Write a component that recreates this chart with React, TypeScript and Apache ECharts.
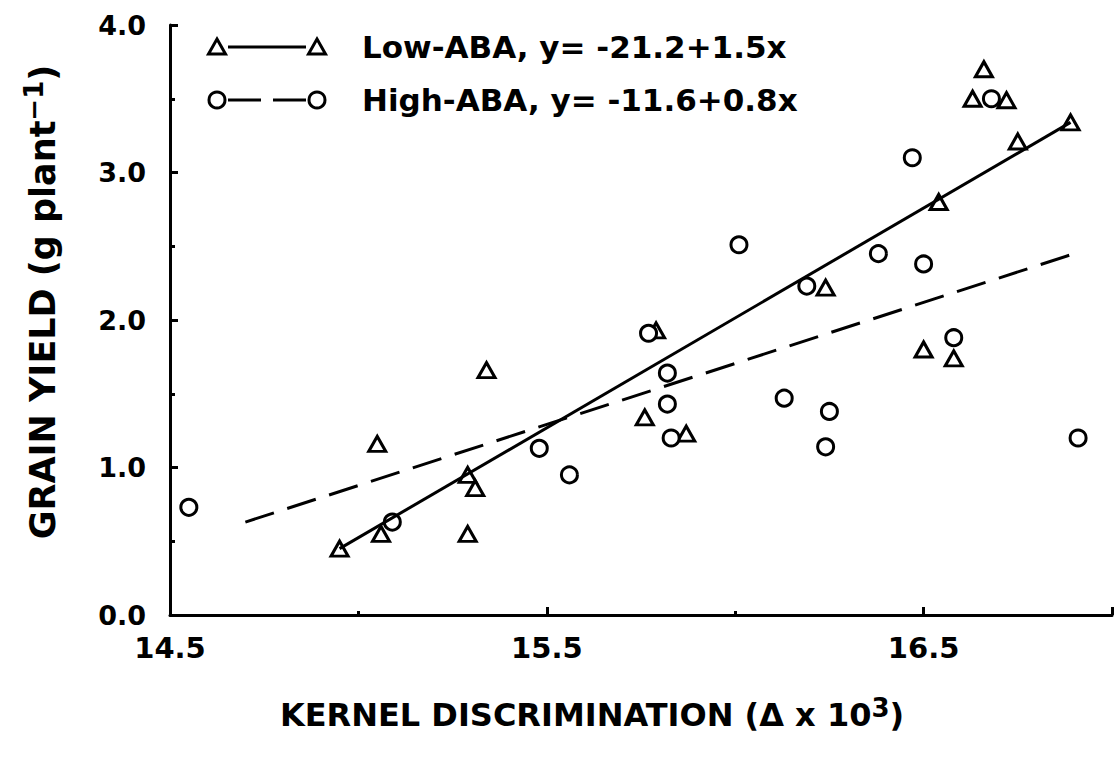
import React, { useEffect, useRef } from 'react';
import * as echarts from 'echarts';

// Low-ABA (triangles)
const lowX = [14.95, 15.05, 15.06, 15.29, 15.29, 15.31, 15.34, 15.76, 15.79, 15.87, 16.24, 16.5, 16.54, 16.58, 16.63, 16.66, 16.72, 16.75, 16.89];
const lowY = [0.45, 1.16, 0.55, 0.55, 0.95, 0.86, 1.66, 1.34, 1.93, 1.23, 2.22, 1.8, 2.8, 1.74, 3.5, 3.7, 3.49, 3.21, 3.34];
// High-ABA (circles)
const highX = [14.55, 15.09, 15.48, 15.56, 15.77, 15.82, 15.82, 15.83, 16.01, 16.13, 16.19, 16.24, 16.25, 16.38, 16.47, 16.5, 16.58, 16.68, 16.91];
const highY = [0.73, 0.63, 1.13, 0.95, 1.91, 1.64, 1.43, 1.2, 2.51, 1.47, 2.23, 1.14, 1.38, 2.45, 3.1, 2.38, 1.88, 3.5, 1.2];
// Regression lines (end points as drawn)
const lowFitX = [14.95, 16.89];
const lowFitY = [0.45, 3.34];
const highFitX = [14.7, 16.9];
const highFitY = [0.63, 2.45];

const xTickLabels = ['14.5', '15.5', '16.5'];
const yTickLabels = ['0.0', '1.0', '2.0', '3.0', '4.0'];
const legendLabels = ['Low-ABA, y= -21.2+1.5x', 'High-ABA, y= -11.6+0.8x'];

const FONT = 'DejaVu Sans';
const BLACK = '#000';

const zip = (xs: number[], ys: number[]) => xs.map((x, i) => [x, ys[i]]);

export default function App() {
  const ref = useRef<HTMLDivElement>(null);

  useEffect(() => {
    if (!ref.current) return;
    const chart = echarts.init(ref.current, null, { renderer: 'svg' });
    const tickStyle = { color: BLACK, width: 3 };
    const legendRowY = [47, 100];
    chart.setOption({
      animation: false,
      backgroundColor: '#fff',
      grid: { left: 170, right: 6, top: 25, bottom: 145, containLabel: false },
      xAxis: [
        {
          type: 'value',
          min: 14.5,
          max: 17,
          interval: 0.5,
          axisLine: { show: true, lineStyle: { color: BLACK, width: 3 } },
          axisTick: { show: true, inside: true, length: 4, lineStyle: tickStyle },
          splitLine: { show: false },
          axisLabel: {
            formatter: (v: number) => {
              const s = v.toFixed(1);
              return xTickLabels.includes(s) ? s : '';
            },
            fontSize: 29,
            fontWeight: 'bold',
            fontFamily: FONT,
            color: BLACK,
            margin: 18,
            showMinLabel: true,
            showMaxLabel: true,
          },
          name: '{a|KERNEL DISCRIMINATION (Δ x 10}{b|3}{a|)}',
          nameLocation: 'middle',
          nameGap: 80,
          nameTextStyle: {
            padding: [0, 98, 0, 0],
            rich: {
              a: { fontSize: 32, fontWeight: 'bold', fontFamily: FONT, color: BLACK, lineHeight: 40 },
              b: { fontSize: 26, fontWeight: 'bold', fontFamily: FONT, color: BLACK, lineHeight: 26, verticalAlign: 'top' },
            },
          },
        },
        {
          type: 'value',
          min: 0,
          max: 2.5,
          interval: 1,
          position: 'bottom',
          axisLine: { show: false },
          axisTick: { show: true, inside: true, length: 8, lineStyle: tickStyle },
          axisLabel: { show: false },
          splitLine: { show: false },
        },
      ],
      yAxis: {
        type: 'value',
        min: 0,
        max: 4,
        interval: 1,
        axisLine: { show: true, lineStyle: { color: BLACK, width: 3 } },
        axisTick: { show: true, inside: true, length: 8, lineStyle: tickStyle },
        minorTick: { show: true, splitNumber: 2, length: 5, lineStyle: tickStyle },
        splitLine: { show: false },
        minorSplitLine: { show: false },
        axisLabel: {
          formatter: (v: number) => yTickLabels[Math.round(v)] ?? '',
          fontSize: 27,
          fontWeight: 'bold',
          fontFamily: FONT,
          color: BLACK,
          margin: 24,
        },
        name: '{a|GRAIN YIELD (g plant}{b|−1}{a|)}',
        nameLocation: 'middle',
        nameGap: 105,
        nameTextStyle: {
          padding: [0, 0, 0, 36],
          rich: {
            a: { fontSize: 35, fontWeight: 'bold', fontFamily: FONT, color: BLACK, lineHeight: 44 },
            b: { fontSize: 26, fontWeight: 'bold', fontFamily: FONT, color: BLACK, lineHeight: 26, verticalAlign: 'top' },
          },
        },
      },
      graphic: [
        {
          type: 'polygon',
          shape: { points: [[217, 39], [225.5, 54], [208.5, 54]] },
          style: { fill: '#fff', stroke: BLACK, lineWidth: 3 },
        },
        {
          type: 'line',
          shape: { x1: 228, y1: legendRowY[0], x2: 306, y2: legendRowY[0] },
          style: { stroke: BLACK, lineWidth: 3 },
        },
        {
          type: 'polygon',
          shape: { points: [[317, 39], [325.5, 54], [308.5, 54]] },
          style: { fill: '#fff', stroke: BLACK, lineWidth: 3 },
        },
        {
          type: 'text',
          x: 362,
          y: legendRowY[0],
          style: {
            text: legendLabels[0],
            fontSize: 31,
            fontWeight: 'bold',
            fontFamily: FONT,
            fill: BLACK,
            verticalAlign: 'middle',
            textVerticalAlign: 'middle',
          },
        },
        {
          type: 'circle',
          shape: { cx: 217, cy: legendRowY[1], r: 8 },
          style: { fill: '#fff', stroke: BLACK, lineWidth: 3 },
        },
        {
          type: 'line',
          shape: { x1: 228, y1: legendRowY[1], x2: 306, y2: legendRowY[1] },
          style: { stroke: BLACK, lineWidth: 3, lineDash: [33, 12] },
        },
        {
          type: 'circle',
          shape: { cx: 317, cy: legendRowY[1], r: 8 },
          style: { fill: '#fff', stroke: BLACK, lineWidth: 3 },
        },
        {
          type: 'text',
          x: 362,
          y: legendRowY[1],
          style: {
            text: legendLabels[1],
            fontSize: 31,
            fontWeight: 'bold',
            fontFamily: FONT,
            fill: BLACK,
            verticalAlign: 'middle',
            textVerticalAlign: 'middle',
          },
        },
      ],
      series: [
        {
          name: 'Low-ABA',
          type: 'scatter',
          xAxisIndex: 0,
          data: zip(lowX, lowY),
          symbol: 'triangle',
          symbolSize: [17, 15],
          itemStyle: { color: '#fff', borderColor: BLACK, borderWidth: 3, opacity: 1 },
          z: 2,
        },
        {
          name: 'High-ABA',
          type: 'scatter',
          xAxisIndex: 0,
          data: zip(highX, highY),
          symbol: 'circle',
          symbolSize: 16,
          itemStyle: { color: '#fff', borderColor: BLACK, borderWidth: 3, opacity: 1 },
          z: 2,
        },
        {
          name: 'Low-ABA fit',
          type: 'line',
          xAxisIndex: 0,
          data: zip(lowFitX, lowFitY),
          showSymbol: false,
          symbol: 'none',
          lineStyle: { color: BLACK, width: 3, type: 'solid' },
          z: 3,
        },
        {
          name: 'High-ABA fit',
          type: 'line',
          xAxisIndex: 0,
          data: zip(highFitX, highFitY),
          showSymbol: false,
          symbol: 'none',
          lineStyle: { color: BLACK, width: 3, type: [30, 14] },
          z: 3,
        },
      ],
    });
    return () => chart.dispose();
  }, []);

  return (
    <div
      ref={ref}
      style={{ position: 'absolute', left: 0, top: 0, width: 1118, height: 760, background: '#fff' }}
    />
  );
}
